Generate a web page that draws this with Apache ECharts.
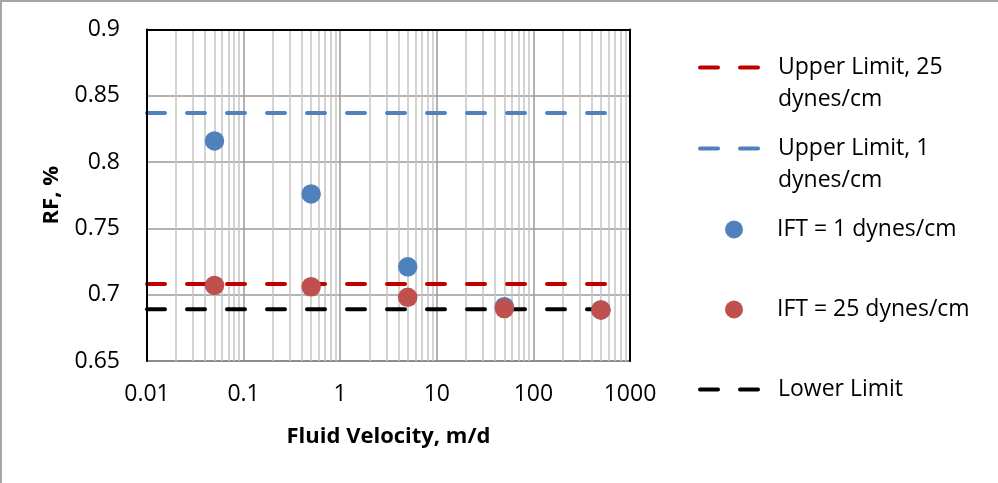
<!DOCTYPE html>
<html>
<head>
<meta charset="utf-8">
<script src="https://cdn.jsdelivr.net/npm/echarts@6/dist/echarts.min.js"></script>
<style>
  html, body { margin: 0; padding: 0; background: #fff; }
  #chart { width: 998px; height: 483px; }
</style>
</head>
<body>
<div id="chart"></div>
<script>
// Measured recovery factor vs. fluid velocity for two interfacial tensions
const velocity = [0.05, 0.5, 5, 50, 500];
const rfIft1 = [0.816, 0.776, 0.721, 0.691, 0.6885];
const rfIft25 = [0.707, 0.706, 0.698, 0.6895, 0.6885];

// Horizontal reference limits, drawn across the velocity range
const limitSpan = [0.01, 700];
const upperLimit25 = 0.708;
const upperLimit1 = 0.837;
const lowerLimit = 0.689;

// Axis ranges
const xRange = [0.01, 1000];
const yRange = [0.65, 0.9];
const yStep = 0.05;

const FONT = '"Open Sans", "Noto Sans", sans-serif';
const names = {
  up25: 'Upper Limit, 25 dynes/cm',
  up1: 'Upper Limit, 1 dynes/cm',
  ift1: 'IFT = 1 dynes/cm',
  ift25: 'IFT = 25 dynes/cm',
  low: 'Lower Limit'
};

// Minor log gridlines at 2..9 within each decade
const minorGrid = [];
for (let d = 0.01; d < 1000; d *= 10) {
  for (let m = 2; m <= 9; m++) minorGrid.push(+(m * d).toPrecision(3));
}

const limitLine = (name, value, color, z) => ({
  name, type: 'line', z,
  data: limitSpan.map(x => [x, value]),
  symbol: 'none', silent: true,
  lineStyle: { color, width: 4, type: [18, 22], cap: 'round' },
  itemStyle: { color },
  emphasis: { disabled: true }
});

const dots = (name, values, color, z) => ({
  name, type: 'scatter', z,
  data: velocity.map((v, i) => [v, values[i]]),
  symbol: 'circle', symbolSize: 19.5,
  itemStyle: { color, opacity: 1 },
  emphasis: { disabled: true }
});

const richText = {
  t: { fontFamily: FONT, fontSize: 23, color: '#000', lineHeight: 32 },
  gap: { fontFamily: FONT, fontSize: 23, lineHeight: 32 }
};

function legendItem(name, lines, cy, isLine) {
  const text = lines.length > 1
    ? '{gap| }\n' + lines.map(l => '{t|' + l + '}').join('\n')
    : '{t|' + lines[0] + '}';
  const half = lines.length > 1 ? 48 : 16;
  const item = {
    data: [name],
    orient: 'vertical',
    left: isLine ? 698 : 725,
    top: cy - half + 7,
    padding: 0,
    itemWidth: isLine ? 62 : 18,
    itemHeight: isLine ? 14 : 18,
    selectedMode: false,
    formatter: () => text,
    textStyle: { rich: richText, padding: [0, 0, 0, isLine ? 11 : 29] },
    lineStyle: { width: 'inherit', type: 'inherit', cap: 'inherit' }
  };
  if (isLine) {
    // dashed stroke only, no marker dot in the key
    item.itemStyle = { color: 'rgba(0,0,0,0)', borderWidth: 0, opacity: 0 };
  }
  return item;
}

const chart = echarts.init(document.getElementById('chart'), null, { renderer: 'canvas' });

chart.setOption({
  animation: false,
  backgroundColor: '#fff',
  textStyle: { fontFamily: FONT },
  graphic: [{
    type: 'rect', silent: true, z: 100,
    shape: { x: 1, y: 1, width: 3000, height: 3000 },
    style: { fill: 'none', stroke: '#a6a6a6', lineWidth: 2 }
  }],
  grid: { left: 147, right: 368, top: 29.5, bottom: 122 },
  legend: [
    legendItem(names.up25, ['Upper Limit, 25', 'dynes/cm'], 65, true),
    legendItem(names.up1, ['Upper Limit, 1', 'dynes/cm'], 146, true),
    legendItem(names.ift1, ['IFT = 1 dynes/cm'], 227, false),
    legendItem(names.ift25, ['IFT = 25 dynes/cm'], 307, false),
    legendItem(names.low, ['Lower Limit'], 387, true)
  ],
  xAxis: [{
    type: 'log', logBase: 10, min: xRange[0], max: xRange[1],
    position: 'bottom', z: 0,
    axisLine: { show: true, lineStyle: { color: '#8c8c8c', width: 2 } },
    axisTick: { show: false },
    axisLabel: {
      margin: 22, fontSize: 23, color: '#000', fontFamily: FONT,
      formatter: v => String(+(+v).toPrecision(6))
    },
    splitLine: { show: true, lineStyle: { color: '#9a9a9a', width: 1.5 } },
    name: 'Fluid Velocity, m/d', nameLocation: 'middle', nameGap: 65,
    nameTextStyle: { fontSize: 22, fontWeight: 'bold', color: '#000', fontFamily: FONT }
  }, {
    // frame: top edge of the plot area
    type: 'log', logBase: 10, min: xRange[0], max: xRange[1],
    position: 'top', z: 3,
    axisLine: { show: true, lineStyle: { color: '#000', width: 2 } },
    axisTick: { show: false }, axisLabel: { show: false }, splitLine: { show: false }
  }],
  yAxis: [{
    type: 'value', min: yRange[0], max: yRange[1], interval: yStep,
    position: 'left', z: 0,
    axisLine: { show: false },
    axisTick: { show: false },
    axisLabel: {
      margin: 27, fontSize: 23, color: '#000', fontFamily: FONT,
      formatter: v => String(+v.toFixed(2))
    },
    splitLine: { show: true, lineStyle: { color: '#9a9a9a', width: 1.5 } },
    name: 'RF, %', nameLocation: 'middle', nameGap: 84,
    nameTextStyle: { fontSize: 22, fontWeight: 'bold', color: '#000', fontFamily: FONT }
  }, {
    // frame: left edge drawn above the gridlines
    type: 'value', min: yRange[0], max: yRange[1], position: 'left', z: 3,
    axisLine: { show: true, lineStyle: { color: '#000', width: 2 } },
    axisTick: { show: false }, axisLabel: { show: false }, splitLine: { show: false }
  }, {
    // frame: right edge
    type: 'value', min: yRange[0], max: yRange[1], position: 'right', z: 3,
    axisLine: { show: true, lineStyle: { color: '#000', width: 2 } },
    axisTick: { show: false }, axisLabel: { show: false }, splitLine: { show: false }
  }],
  series: [
    {
      name: 'minor-grid', type: 'line', data: [], silent: true, z: 1,
      markLine: {
        silent: true, z: 1, animation: false,
        symbol: ['none', 'none'],
        label: { show: false },
        emphasis: { disabled: true },
        lineStyle: { color: '#c4c4c4', width: 1.5, type: 'solid' },
        data: minorGrid.map(v => ({ xAxis: v }))
      }
    },
    limitLine(names.up25, upperLimit25, '#C00000', 2),
    limitLine(names.up1, upperLimit1, '#4F81BD', 2),
    limitLine(names.low, lowerLimit, '#000000', 2),
    dots(names.ift1, rfIft1, '#4F81BD', 3),
    dots(names.ift25, rfIft25, '#C0504D', 4)
  ]
});
</script>
</body>
</html>
